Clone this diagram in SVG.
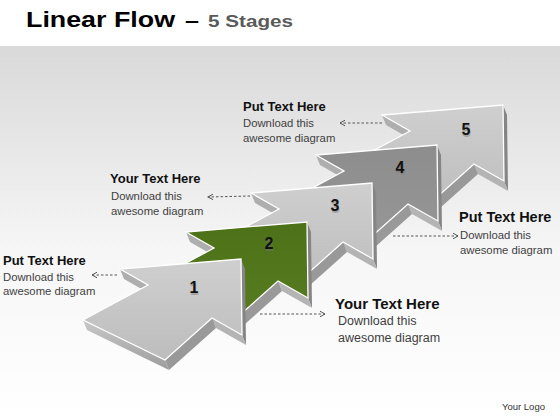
<svg xmlns="http://www.w3.org/2000/svg" width="560" height="420" viewBox="0 0 560 420">
<defs>
<linearGradient id="bg" x1="0" y1="46" x2="0" y2="420" gradientUnits="userSpaceOnUse">
<stop offset="0" stop-color="#d9d9d9"/><stop offset="0.55" stop-color="#f6f6f6"/><stop offset="1" stop-color="#ffffff"/>
</linearGradient>
<linearGradient id="gGray" x1="0" y1="0" x2="0" y2="1">
<stop offset="0" stop-color="#cfcfcf"/><stop offset="1" stop-color="#bdbdbd"/>
</linearGradient>
<linearGradient id="gDark" x1="0" y1="0" x2="0" y2="1">
<stop offset="0" stop-color="#8d8d8d"/><stop offset="1" stop-color="#979797"/>
</linearGradient>
<linearGradient id="gGreen" x1="0" y1="0" x2="0" y2="1">
<stop offset="0" stop-color="#4d7118"/><stop offset="1" stop-color="#587c20"/>
</linearGradient>
<linearGradient id="gFront" x1="0" y1="0" x2="0" y2="1">
<stop offset="0" stop-color="#c9c9c9"/><stop offset="1" stop-color="#9c9c9c"/>
</linearGradient>
<path id="top" d="M0,0 L1,76 L-29,59 L-76,101 L-158,61 L-93,26 L-121,10 Z"/>
<g id="sides">
<path d="M0,0 L1,76 L5,86 L4,10 Z" fill="#858585"/>
<path d="M1,76 L-29,59 L-25,69 L5,86 Z" fill="#b4b4b4"/>
<path d="M-29,59 L-76,101 L-72,111 L-25,69 Z" fill="#999999"/>
<path d="M-76,101 L-158,61 L-154,71 L-72,111 Z" fill="url(#gFront)"/>
<path d="M-93,26 L-121,10 L-117,20 L-89,36 Z" fill="#aeaeae"/>
</g>
<marker id="ah" viewBox="-7 -4 8 8" refX="0" refY="0" markerWidth="8" markerHeight="8" markerUnits="userSpaceOnUse" orient="auto">
<path d="M-5,-2.8 L0,0 L-5,2.8" fill="none" stroke="#555" stroke-width="1"/>
</marker>
<style>
.topf{stroke:#ffffff;stroke-width:1.3;stroke-linejoin:miter}
.num{font-family:"Liberation Sans",Arial,sans-serif;font-weight:bold;font-size:16px;fill:#111;text-anchor:middle}
.numsh{font-family:"Liberation Sans",Arial,sans-serif;font-weight:bold;font-size:16px;fill:#777;opacity:.45;text-anchor:middle}
.hd{font-family:"Liberation Sans",Arial,sans-serif;font-weight:bold;font-size:13px;fill:#111}
.bd{font-family:"Liberation Sans",Arial,sans-serif;font-size:11.3px;fill:#3f3f3f}
.con{fill:none;stroke:#555;stroke-width:1;stroke-dasharray:2.5 2;marker-end:url(#ah)}
</style>
</defs>

<rect x="0" y="0" width="560" height="46" fill="#ffffff"/>
<rect x="0" y="46" width="560" height="374" fill="url(#bg)"/>

<g id="title">
<text x="26" y="27" font-family="Liberation Sans, Arial, sans-serif" font-weight="bold" font-size="22" fill="#000" textLength="149" lengthAdjust="spacingAndGlyphs">Linear Flow</text>
<text x="185" y="27" font-family="Liberation Sans, Arial, sans-serif" font-weight="bold" font-size="20" fill="#000" textLength="14" lengthAdjust="spacingAndGlyphs">–</text>
<text x="208" y="27" font-family="Liberation Sans, Arial, sans-serif" font-weight="bold" font-size="16" fill="#5a5a5a" textLength="85" lengthAdjust="spacingAndGlyphs">5 Stages</text>
</g>

<g id="arrow5" transform="translate(503,105)">
<use href="#sides"/><use href="#top" class="topf" fill="url(#gGray)"/>
</g>
<g id="arrow4" transform="translate(437,145)">
<use href="#sides"/><use href="#top" class="topf" fill="url(#gDark)"/>
</g>
<g id="arrow3" transform="translate(372,183)">
<use href="#sides"/><use href="#top" class="topf" fill="url(#gGray)"/>
</g>
<g id="arrow2" transform="translate(307,222)">
<use href="#sides"/><use href="#top" class="topf" fill="url(#gGreen)"/>
</g>
<g id="arrow1" transform="translate(241,259)">
<use href="#sides"/><use href="#top" class="topf" fill="url(#gGray)"/>
</g>

<g id="numbers">
<text class="numsh" x="194.5" y="294.5">1</text><text class="num" x="194" y="293">1</text>
<text class="numsh" x="269.5" y="250.5">2</text><text class="num" x="269" y="249">2</text>
<text class="numsh" x="335.5" y="212.5">3</text><text class="num" x="335" y="211">3</text>
<text class="numsh" x="400.5" y="174.5">4</text><text class="num" x="400" y="173">4</text>
<text class="numsh" x="466.5" y="136.5">5</text><text class="num" x="466" y="135">5</text>
</g>

<g id="connectors">
<path class="con" d="M117,275 L92,275"/>
<path class="con" d="M250,196 L208,197"/>
<path class="con" d="M382,123 L340,123"/>
<path class="con" d="M393,236 L458,236"/>
<path class="con" d="M260,314 L325,314"/>
</g>

<g id="label-left">
<text class="hd" x="3" y="265">Put Text Here</text>
<text class="bd" x="3" y="281">Download this</text>
<text class="bd" x="3" y="295">awesome diagram</text>
</g>
<g id="label-midleft">
<text class="hd" x="110" y="183">Your Text Here</text>
<text class="bd" x="111" y="200">Download this</text>
<text class="bd" x="111" y="215">awesome diagram</text>
</g>
<g id="label-top">
<text class="hd" x="243" y="111">Put Text Here</text>
<text class="bd" x="243" y="127">Download this</text>
<text class="bd" x="243" y="141.5">awesome diagram</text>
</g>
<g id="label-right">
<text class="hd" x="459" y="222" font-size="14.5" style="font-size:14.5px">Put Text Here</text>
<text class="bd" x="460" y="239">Download this</text>
<text class="bd" x="460" y="254">awesome diagram</text>
</g>
<g id="label-bottom">
<text class="hd" x="335" y="309" style="font-size:15px">Your Text Here</text>
<text class="bd" x="338" y="325" style="font-size:12.5px">Download this</text>
<text class="bd" x="338" y="342" style="font-size:12.5px">awesome diagram</text>
</g>
<g id="logo">
<text x="502" y="410" font-family="Liberation Sans, Arial, sans-serif" font-size="9.5" fill="#333">Your Logo</text>
</g>
</svg>
